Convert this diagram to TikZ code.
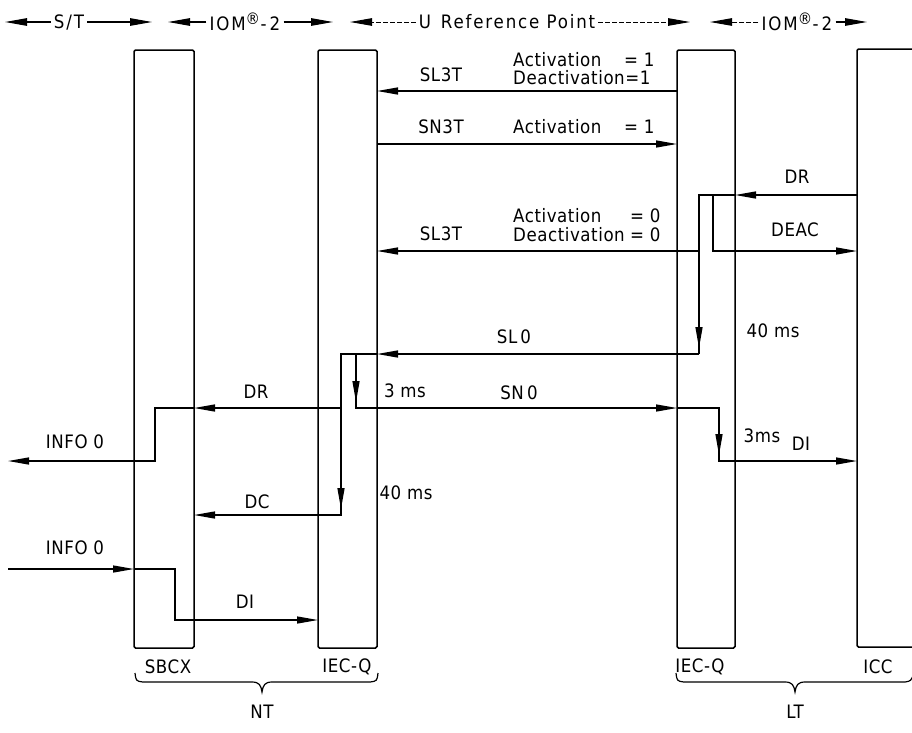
\documentclass[tikz,border=0pt]{standalone}
\usepackage{fontspec}
\setmainfont{DejaVu Sans Condensed}
\usetikzlibrary{arrows.meta}
\begin{document}
\begin{tikzpicture}[x=1pt,y=-1pt,
  lbl/.style={font=\fontsize{18.5}{20}\selectfont\addfontfeatures{LetterSpace=3}, inner sep=0pt},
  hl/.style={font=\fontsize{18.5}{20}\selectfont\addfontfeatures{LetterSpace=10}, inner xsep=3pt, inner ysep=0pt},
  box/.style={draw, line width=1.5pt, rounded corners=1.5pt, outer sep=0pt, anchor=north west, minimum width=#1, minimum height=598pt},
  ln/.style={line width=1.3pt},
  msg/.style={line width=1.3pt, -{Triangle[length=21pt,width=7pt]}},
  dn/.style={line width=1.3pt, -{Triangle[length=21pt,width=7pt]}, shorten >=6pt},
  hdr/.style={line width=1.1pt, -{Triangle[length=22pt,width=7.5pt]}},
  hdrd/.style={hdr, line width=0.9pt, dash pattern=on 5pt off 2pt}]
\useasboundingbox (0,0) rectangle (912,732);

% header
\node[hl] (hST) at (69,22) {S/T};
\coordinate (hSTl) at (5,22); \coordinate (hSTr) at (152,22);
\draw[hdr] (hST.west) -- (hSTl); \draw[hdr] (hST.east) -- (hSTr);
\node[hl] (hI1) at (245,22) {IOM\textsuperscript{\fontsize{16}{16}\selectfont ®}-\,2};
\coordinate (hI1l) at (168,22); \coordinate (hI1r) at (333,22);
\draw[hdr] (hI1.west) -- (hI1l); \draw[hdr] (hI1.east) -- (hI1r);
\node[hl] (hU) at (507,22) {U\hspace{10pt}Reference Point};
\coordinate (hUl) at (350,22); \coordinate (hUr) at (690,22);
\draw[hdrd] (hU.west) -- (hUl); \draw[hdrd] (hU.east) -- (hUr);
\node[hl] (hI2) at (797,22) {IOM\textsuperscript{\fontsize{16}{16}\selectfont ®}-\,2};
\coordinate (hI2l) at (710,22); \coordinate (hI2r) at (867,22);
\draw[hdrd] (hI2.west) -- (hI2l); \draw[hdr] (hI2.east) -- (hI2r);

% boxes
\node[box=60pt] (sbcx) at (134,50) {};
\node[box=59pt] (iecn) at (318,50) {};
\node[box=58pt] (iecl) at (677,50) {};
\node[box=80pt] (icc) at (857,49) {};

% levels
\coordinate (yA) at (0,91);
\coordinate (yB) at (0,144);
\coordinate (yC) at (0,195);
\coordinate (yD) at (0,251);
\coordinate (yE) at (0,354);
\coordinate (yF) at (0,408);
\coordinate (yG) at (0,461);
\coordinate (yH) at (0,515);
\coordinate (yI) at (0,569);
\coordinate (yJ) at (0,620);
% LT internal
\coordinate (ltA) at (699,195);
\coordinate (ltB) at (699,354);
\coordinate (ltC) at (713,195);
\coordinate (ltD) at (713,251);
\coordinate (ltS) at (699,251);
\coordinate (ltE) at (719,408);
\coordinate (ltF) at (719,461);
% NT internal
\coordinate (ntA) at (341,354);
\coordinate (ntB) at (341,515);
\coordinate (ntC) at (356,354);
\coordinate (ntD) at (356,408);
\coordinate (ntR) at (341,408);
\coordinate (sbA) at (155,408);
\coordinate (sbB) at (155,461);
\coordinate (outI) at (8,461);
\coordinate (inI) at (8,569);
\coordinate (sbC) at (175,569);
\coordinate (sbD) at (175,620);

% messages
\draw[msg] (iecl.west |- yA) -- (iecn.east |- yA);
\draw[msg] (iecn.east |- yB) -- (iecl.west |- yB);
\draw[msg] (icc.west |- yC) -- (iecl.east |- yC);
\draw[ln] (iecl.east |- yC) -- (ltA) -- (ltB);
\draw[dn] (ltA) -- (ltB);
\draw[msg] (ltC) -- (ltD) -- (icc.west |- yD);
\draw[msg] (ltS) -- (iecn.east |- yD);
\draw[msg] (ltB) -- (iecn.east |- yE);
\draw[msg] (iecn.east |- yE) -- (ntA) -- (ntB) -- (sbcx.east |- yH);
\draw[dn] (ntA) -- (ntB);
\draw[msg] (ntC) -- (ntD) -- (iecl.west |- yF);
\draw[dn] (ntC) -- (ntD);
\draw[msg] (iecl.west |- yF) -- (ltE) -- (ltF) -- (icc.west |- yG);
\draw[dn] (ltE) -- (ltF);
\draw[msg] (ntR) -- (sbcx.east |- yF);
\draw[msg] (sbcx.east |- yF) -- (sbA) -- (sbB) -- (outI);
\draw[msg] (inI) -- (sbcx.west |- yI);
\draw[msg] (sbcx.west |- yI) -- (sbC) -- (sbD) -- (iecn.west |- yJ);

% labels
\node[lbl] (tSL3a) at (441,75) {SL3T};
\node[lbl, anchor=west] (tA1) at (513,60) {Activation};
\node[lbl, anchor=west] (tA1e) at (624,60) {= 1};
\node[lbl, anchor=west] (tD1) at (513,78) {Deactivation=1};
\node[lbl] (tSN3) at (441,127) {SN3T};
\node[lbl, anchor=west] (tA2) at (513,127) {Activation};
\node[lbl, anchor=west] (tA2e) at (624,127) {= 1};
\node[lbl] (tSL3b) at (441,234) {SL3T};
\node[lbl, anchor=west] (tA3) at (513,216) {Activation};
\node[lbl, anchor=west] (tA3e) at (630,216) {= 0};
\node[lbl, anchor=west] (tD3) at (513,235) {Deactivation};
\node[lbl, anchor=west] (tD3e) at (630,235) {= 0};
\node[lbl] (tDRl) at (797,177) {DR};
\node[lbl] (tDEAC) at (795,230) {DEAC};
\node[lbl] (t40l) at (773,331) {40 ms};
\node[lbl] (tSL0) at (514,337) {SL\,0};
\node[lbl] (tDRn) at (256,392) {DR};
\node[lbl] (t3n) at (405,391) {3 ms};
\node[lbl] (tSN0) at (519,393) {SN\,0};
\node[lbl] (t3l) at (762,436) {3ms};
\node[lbl] (tDIl) at (801,444) {DI};
\node[lbl] (tI0o) at (75,442) {INFO 0};
\node[lbl] (t40n) at (406,493) {40 ms};
\node[lbl] (tDC) at (257,502) {DC};
\node[lbl] (tI0i) at (75,548) {INFO 0};
\node[lbl] (tDIn) at (245,602) {DI};

\node[lbl] (nSB) at (168,667) {SBCX};
\node[lbl] (nIN) at (347,667) {IEC-Q};
\node[lbl] (nIL) at (700,667) {IEC-Q};
\node[lbl] (nIC) at (878,667) {ICC};
\node[lbl] (nNT) at (262,712) {NT};
\node[lbl] (nLT) at (795,712) {LT};

% braces
\draw[line width=1.2pt] (135,673) .. controls (136,681) .. (143,682) -- (252,682) .. controls (259,682) and (261,685) .. (262,692) .. controls (263,685) and (265,682) .. (272,682) -- (370,682) .. controls (377,681) .. (378,673);
\draw[line width=1.2pt] (676,673) .. controls (677,681) .. (684,682) -- (785,682) .. controls (792,682) and (794,685) .. (795,692) .. controls (796,685) and (798,682) .. (805,682) -- (905,682) .. controls (911,681) .. (914,673);
\end{tikzpicture}
\end{document}
